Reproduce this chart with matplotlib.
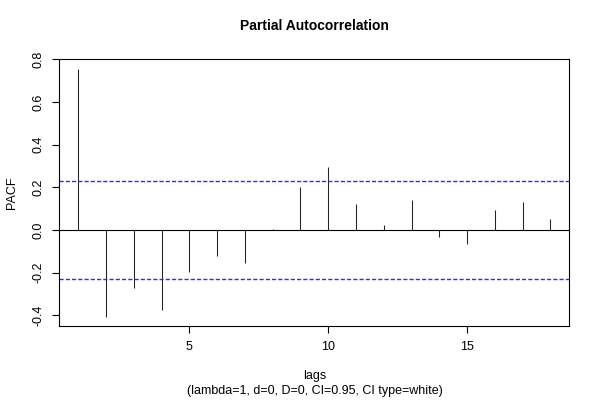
import matplotlib
matplotlib.use("Agg")
import matplotlib.pyplot as plt

# data
lags = list(range(1, 19))
pacf = [0.754, -0.406, -0.273, -0.375, -0.195, -0.120, -0.156, 0.005, 0.201,
        0.295, 0.120, 0.022, 0.139, -0.031, -0.064, 0.094, 0.133, 0.052]
ci = 0.229
x_ticks = [5, 10, 15]
y_ticks = [-0.4, -0.2, 0.0, 0.2, 0.4, 0.6, 0.8]

plt.rcParams["font.family"] = ["Liberation Sans", "DejaVu Sans"]

fig = plt.figure(figsize=(6, 4), dpi=100)
ax = fig.add_axes([0.0988, 0.185, 0.85, 0.667])

ax.vlines(lags, 0, pacf, color="#222222", linewidth=0.75)
ax.axhline(0, color="black", linewidth=0.8)
for v in (ci, -ci):
    ax.axhline(v, color="#2b2bff", linewidth=1.0, linestyle=(0, (3, 1.5)))

ax.set_xlim(0.32, 18.68)
ax.set_ylim(-0.4504, 0.8)
ax.set_xticks(x_ticks)
ax.set_xticklabels([str(t) for t in x_ticks], fontsize=9)
ax.set_yticks(y_ticks)
ax.set_yticklabels([f"{t:.1f}".replace("-0.0", "0.0") for t in y_ticks],
                   fontsize=9, rotation=90, va="center")
ax.tick_params(direction="out", length=5, width=0.8, pad=6)
for s in ax.spines.values():
    s.set_linewidth(0.8)

ax.set_ylabel("PACF", fontsize=9, labelpad=10)
fig.text(0.524, 0.935, "Partial Autocorrelation", ha="center", va="center",
         fontsize=10, fontweight="bold")
fig.text(0.524, 0.06, "lags", ha="center", va="center", fontsize=9)
fig.text(0.524, 0.022, "(lambda=1, d=0, D=0, CI=0.95, CI type=white)",
         ha="center", va="center", fontsize=9)

fig.savefig("out.png", dpi=100)
